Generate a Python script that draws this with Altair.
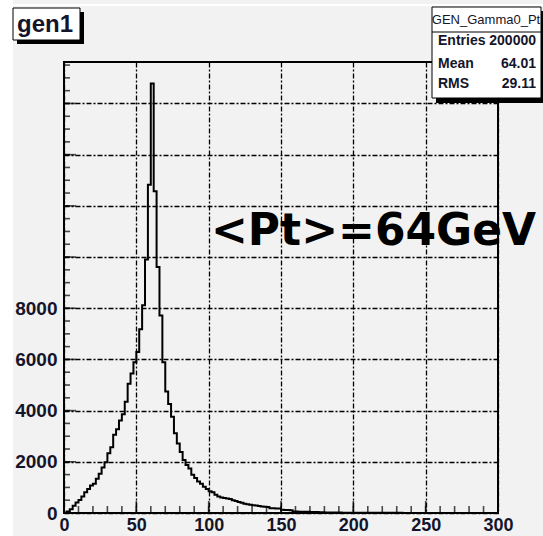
import altair as alt
import pandas as pd

# ---- data (bin width 2, 0..300) ----
bin_edges = list(range(0, 300, 2))
counts = [
    20, 60, 150, 280, 410, 510, 640, 810, 940, 1070,
    1140, 1340, 1530, 1780, 1980, 2330, 2570, 3060, 3270, 3610,
    3860, 4350, 5050, 5450, 5890, 6290, 7180, 8120, 9900, 12820,
    16780, 12570, 9610, 7720, 5890, 4750, 4260, 3760, 3120, 2720,
    2380, 2070, 1880, 1740, 1490, 1370, 1230, 1140, 1030, 940,
    850, 810, 710, 640, 610, 590, 570, 550, 500, 470,
    430, 400, 360, 340, 320, 300, 290, 270, 250, 240,
    230, 190, 185, 180, 175, 130, 120, 115, 110, 60,
    55, 50, 50, 45, 45, 40, 40, 35, 30, 25,
    22, 20, 18, 18, 16, 15, 14, 13, 12, 12,
    11, 10, 10, 9, 9, 8, 8, 7, 7, 7,
    6, 6, 6, 5, 5, 5, 5, 4, 4, 4,
    4, 4, 3, 3, 3, 3, 3, 3, 2, 2,
    2, 2, 2, 2, 2, 2, 2, 1, 1, 1,
    1, 1, 1, 1, 1, 1, 1, 1, 1, 1,
]
x_major = [0, 50, 100, 150, 200, 250, 300]
x_minor = list(range(0, 301, 10))
y_major = [0, 2000, 4000, 6000, 8000, 10000, 12000, 14000, 16000]
y_minor = list(range(0, 17501, 500))
y_labelled = [0, 2000, 4000, 6000, 8000]

hist_title = "gen1"
stat_name = "GEN_Gamma0_Pt"
stat_rows = [("Entries", "200000"), ("Mean", "64.01"), ("RMS", "29.11")]
annotation = "<Pt>=64GeV"

X_DOMAIN = [0, 300]
Y_DOMAIN = [0, 17620]

W, H = 434, 451

hist = pd.DataFrame({
    "v": [0] + bin_edges + [300],
    "n": [0] + counts + [counts[-1]],
})

xs = alt.Scale(domain=X_DOMAIN, nice=False, zero=False)
ys = alt.Scale(domain=Y_DOMAIN, nice=False, zero=False)

GRID_DASH = [5, 2, 2, 2]
AXIS_FONT = "Liberation Sans"
TXT = "#15152a"

x_axis = alt.Axis(values=x_major, grid=True, gridColor="black", gridDash=GRID_DASH,
                  gridWidth=1.3, gridOpacity=1, ticks=False, domain=False, title=None,
                  labelFont=AXIS_FONT, labelFontSize=18, labelFontWeight="bold",
                  labelColor=TXT, labelPadding=3, format="d",
                  labelFlush=False, labelOverlap=False)
y_axis = alt.Axis(values=y_major, grid=True, gridColor="black", gridDash=GRID_DASH,
                  gridWidth=1.3, gridOpacity=1, ticks=False, domain=False, title=None,
                  labelFont=AXIS_FONT, labelFontSize=19, labelFontWeight="bold",
                  labelColor=TXT, labelPadding=7, format="d",
                  labelExpr="datum.value <= %d ? datum.label : ''" % max(y_labelled),
                  labelFlush=False, labelOverlap=False)

base = alt.Chart(hist).mark_line(
    interpolate="step-after", color="black", strokeWidth=2
).encode(
    x=alt.X("v:Q", scale=xs, axis=x_axis, title=None),
    y=alt.Y("n:Q", scale=ys, axis=y_axis, title=None),
)

def xtick_layer(vals, length):
    return alt.Chart(pd.DataFrame({"v": vals})).mark_tick(
        orient="vertical", color="black", thickness=1.6, size=length
    ).encode(
        x=alt.X("v:Q", scale=xs, axis=x_axis, title=None),
        y=alt.value(H - length / 2),
    )

def ytick_layer(vals, length):
    return alt.Chart(pd.DataFrame({"n": vals})).mark_tick(
        orient="horizontal", color="black", thickness=1.6, size=length
    ).encode(
        y=alt.Y("n:Q", scale=ys, axis=y_axis, title=None),
        x=alt.value(length / 2),
    )

one = pd.DataFrame({"k": [0]})

def box(x1, x2, y1, y2, fill, stroke=None, sw=1):
    kw = dict(fill=fill)
    if stroke:
        kw.update(stroke=stroke, strokeWidth=sw)
    return alt.Chart(one).mark_rect(**kw).encode(
        x=alt.value(x1), x2=alt.value(x2), y=alt.value(y1), y2=alt.value(y2))

def label(txt, x, y, size, weight="bold", align="left", font=AXIS_FONT, color=TXT):
    return alt.Chart(one).mark_text(
        text=txt, font=font, fontSize=size, fontWeight=weight, align=align,
        baseline="alphabetic", color=color
    ).encode(x=alt.value(x), y=alt.value(y))

layers = [
    # white canvas margins
    box(-64, -51, -62, H + 23, "white"),
    box(-51, W + 45, -58, -56, "white"),
    base,
    xtick_layer(x_minor, 7),
    xtick_layer(x_major, 12),
    ytick_layer(y_minor, 6),
    ytick_layer(y_major, 12),
    # title box
    box(-47, 20, -50, -18, "black"),
    box(-51, 16, -54, -22, "white", "black", 1),
    label(hist_title, -47, -30, 24),
    # stats box
    box(372, 481, -51, 41, "black"),
    box(368, 477, -55, 36, "white", "black", 1),
    alt.Chart(one).mark_rule(color="black", strokeWidth=1).encode(
        x=alt.value(368), x2=alt.value(477), y=alt.value(-30)),
    label(stat_name, 422, -38, 13, weight="normal", align="center"),
]
row_y = [-17, 6, 26]
for (nm, val), yy in zip(stat_rows, row_y):
    layers.append(label(nm, 374, yy, 14))
    layers.append(label(val, 472, yy, 14, align="right"))

layers.append(label(annotation, 147, 183, 44, font="DejaVu Sans", color="black"))

chart = alt.layer(*layers).properties(
    width=W, height=H,
    autosize=alt.AutoSizeParams(type="none"),
    padding={"left": 64, "top": 62, "right": 45, "bottom": 23},
).configure(
    background="#f2f2f2",
).configure_view(
    fill="#f2f2f2", stroke="black", strokeWidth=2,
)

chart.save("out.html", embed_options={"renderer": "svg", "actions": False})
